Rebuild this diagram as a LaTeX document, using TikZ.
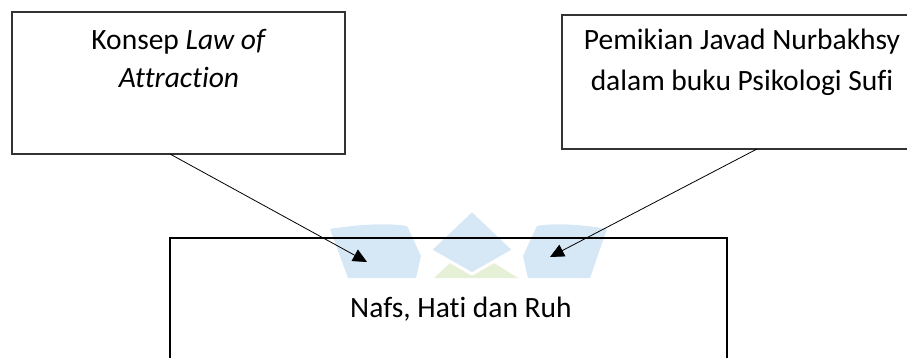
\documentclass[tikz,border=0pt]{standalone}
\usepackage{fontspec}
\setmainfont{Carlito}[Ligatures={NoCommon}]
\usetikzlibrary{arrows.meta}
\definecolor{wmblue}{HTML}{D6E7F6}
\definecolor{wmgreen}{HTML}{E6F0D6}
\begin{document}
\begin{tikzpicture}[x=1pt,y=-1pt,
  box/.style={draw=black!80, line width=1.1pt, inner sep=0pt},
  bigbox/.style={draw=black, line width=2.6pt, inner sep=0pt},
  lbl/.style={font=\fontsize{29.5}{35}\selectfont, anchor=base, inner sep=0pt},
  arr/.style={-{Triangle[length=14pt,width=13pt]}, line width=0.8pt}]
\useasboundingbox (0,0) rectangle (907,358);
% faint watermark
\fill[wmblue] (330,229) .. controls (360,224) and (390,223) .. (407,226) -- (421,256) -- (416,278) -- (348,278) -- cycle;
\fill[wmblue] (607,229) .. controls (580,224) and (552,223) .. (537,226) -- (523,256) -- (528,278) -- (590,278) -- cycle;
\fill[wmgreen] (434,278) -- (450,263) -- (494,263) -- (518,278) -- cycle;
\filldraw[fill=wmblue, draw=white, line width=3pt] (472,210) -- (514,250) -- (472,274) -- (430,250) -- cycle;
% boxes
\node[box, minimum width=333pt, minimum height=142pt] (lbox) at (178.5,83) {};
\node[box, minimum width=363pt, minimum height=134pt] (rbox) at (743.5,82) {};
\node[bigbox, minimum width=557pt, minimum height=142pt] (bbox) at (448.5,309) {};
% texts
\node[lbl] (l1) at (179,50) {Konsep \textit{Law of}};
\node[lbl] (l2) at (179,88) {\textit{Attraction}};
\node[lbl] (r1) at (742,50) {Pemikian Javad Nurbakhsy};
\node[lbl] (r2) at (742,91) {dalam buku Psikologi Sufi};
\node[lbl] (b1) at (461,317) {Nafs, Hati dan Ruh};
% connectors
\coordinate (s1) at (170,154);
\coordinate (e1) at (367,262);
\coordinate (s2) at (757,149);
\coordinate (e2) at (550,257);
\draw[arr] (s1) -- (e1);
\draw[arr] (s2) -- (e2);
\end{tikzpicture}
\end{document}
